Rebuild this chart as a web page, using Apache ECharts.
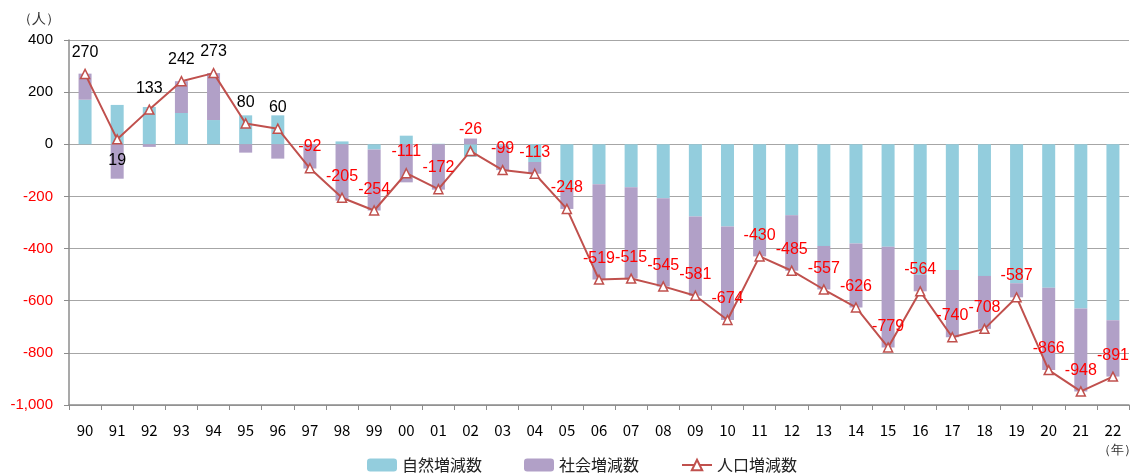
<!DOCTYPE html>
<html>
<head>
<meta charset="utf-8">
<title>人口増減数の推移</title>
<script src="https://cdn.jsdelivr.net/npm/echarts@6/dist/echarts.min.js"></script>
<style>
  html, body { margin: 0; padding: 0; background: #fff; }
  #chart { width: 1133px; height: 473px; }
</style>
</head>
<body>
<div id="chart"></div>
<script>
// 年（横軸）
const years = ["90", "91", "92", "93", "94", "95", "96", "97", "98", "99",
  "00", "01", "02", "03", "04", "05", "06", "07", "08", "09",
  "10", "11", "12", "13", "14", "15", "16", "17", "18", "19",
  "20", "21", "22"];

// 自然増減数
const natural = [171, 151, 143, 120, 93, 111, 111, 1, 11, -20,
  33, 2, -48, -5, -68, -172, -153, -165, -207, -277,
  -315, -367, -272, -390, -381, -393, -500, -482, -505, -533,
  -550, -630, -675];

// 社会増減数
const social = [100, -132, -10, 122, 180, -32, -55, -93, -216, -234,
  -146, -174, 22, -94, -45, -76, -366, -350, -338, -304,
  -359, -63, -213, -167, -245, -386, -64, -258, -203, -54,
  -316, -318, -216];

// 人口増減数
const total = [270, 19, 133, 242, 273, 80, 60, -92, -205, -254,
  -111, -172, -26, -99, -113, -248, -519, -515, -545, -581,
  -674, -430, -485, -557, -626, -779, -564, -740, -708, -587,
  -866, -948, -891];

// 縦軸の目盛
const yTicks = [-1000, -800, -600, -400, -200, 0, 200, 400];

const FONT = "'Noto Sans CJK JP', 'Noto Sans', sans-serif";
const NUM_FONT = "'Liberation Sans', 'Noto Sans', sans-serif";

const chart = echarts.init(document.getElementById("chart"));

// 負の値は赤字で表示
const totalData = total.map((v, i) => ({
  value: v,
  label: {
    color: v < 0 ? "#ff0000" : "#000",
    position: years[i] === "91" ? "bottom" : "top",
  },
}));

const option = {
  animation: false,
  textStyle: { fontFamily: FONT },
  grid: { left: 69, right: 4, top: 40, bottom: 68 },
  legend: {
    top: 452,
    left: 362,
    itemWidth: 30,
    itemHeight: 13,
    itemGap: 42,
    textStyle: { fontSize: 16, color: "#222", fontFamily: FONT },
    data: ["自然増減数", "社会増減数", "人口増減数"],
  },
  xAxis: [
    {
      // 下側の年ラベル用
      type: "category",
      data: years,
      position: "bottom",
      axisLine: { show: false },
      axisTick: { show: false },
      axisLabel: { fontSize: 15, color: "#000", margin: 18, fontFamily: FONT },
    },
    {
      // 0 の位置の軸線と目盛
      type: "category",
      data: years,
      position: "bottom",
      axisLine: { onZero: true, lineStyle: { color: "#8c8c8c", width: 1.5 } },
      axisTick: { show: true, length: 5, lineStyle: { color: "#8c8c8c" } },
      axisLabel: { show: false },
    },
  ],
  yAxis: {
    type: "value",
    min: yTicks[0],
    max: yTicks[yTicks.length - 1],
    interval: 200,
    axisLine: { show: true, lineStyle: { color: "#8c8c8c", width: 1.5 } },
    axisTick: { show: true, length: 5, lineStyle: { color: "#8c8c8c" } },
    splitLine: { lineStyle: { color: "#a6a6a6", width: 1.2 } },
    axisLabel: {
      fontSize: 15,
      margin: 16,
      fontFamily: NUM_FONT,
      formatter: (v) => v.toLocaleString("en-US"),
      color: (v) => (Number(v) < 0 ? "#ff0000" : "#000"),
    },
  },
  graphic: [
    { type: "text", left: 18, top: 12, style: { text: "（人）", fontSize: 14, fill: "#333", font: "14px " + FONT } },
    { type: "text", left: 1098, top: 444, style: { text: "（年）", fontSize: 13, fill: "#333", font: "13px " + FONT } },
  ],
  series: [
    {
      name: "自然増減数",
      type: "bar",
      stack: "pop",
      barWidth: 13,
      itemStyle: { color: "#93cddd" },
      data: natural,
    },
    {
      name: "社会増減数",
      type: "bar",
      stack: "pop",
      barWidth: 13,
      itemStyle: { color: "#b1a0c7" },
      data: social,
    },
    {
      name: "人口増減数",
      type: "line",
      symbol: "triangle",
      symbolSize: 9,
      lineStyle: { color: "#c0504d", width: 2 },
      itemStyle: { color: "#fff", borderColor: "#c0504d", borderWidth: 1.5 },
      label: {
        show: true,
        distance: 8,
        fontSize: 16,
        fontFamily: NUM_FONT,
      },
      z: 5,
      data: totalData,
    },
  ],
};

chart.setOption(option);
</script>
</body>
</html>
